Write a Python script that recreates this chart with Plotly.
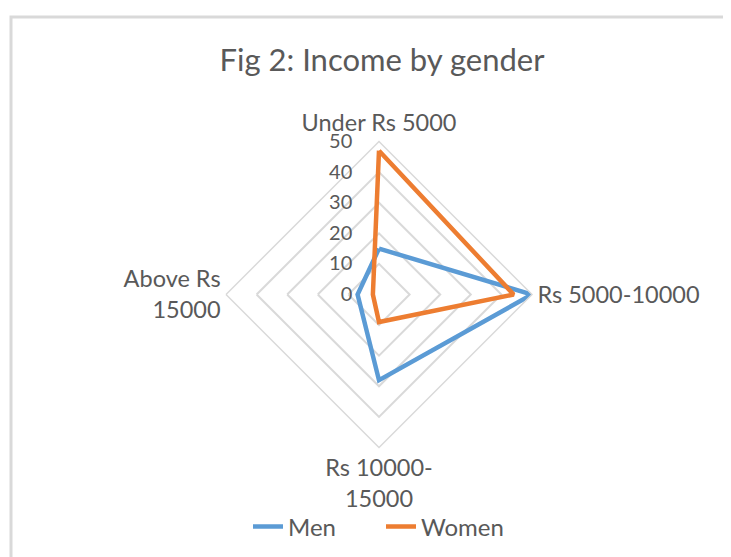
import plotly.graph_objects as go

categories = ["Under Rs 5000", "Rs 5000-10000", "Rs 10000-<br>15000", "Above Rs<br>15000"]
men = [15, 50, 28, 7]
women = [47, 44, 9, 2]
radial_ticks = [0, 10, 20, 30, 40, 50]

FS = "\u2007"  # figure space: right-align labels to the left of the radial axis
radial_text = [(FS * (2 - len(str(v)))) + str(v) + FS * 2 for v in radial_ticks]

OFF = 8  # page body margin
W, H = 731 - OFF, 557 - OFF
cx, cy, R = 379 - OFF, 294.5 - OFF, 153

fig = go.Figure()
fig.add_trace(go.Scatterpolar(
    r=men + men[:1], theta=categories + categories[:1], mode="lines", name="Men",
    line=dict(color="#5B9BD5", width=4.5)))
fig.add_trace(go.Scatterpolar(
    r=women + women[:1], theta=categories + categories[:1], mode="lines", name="Women",
    line=dict(color="#ED7D31", width=4.5)))

font_fam = "Lato, 'Open Sans', sans-serif"
fig.update_layout(
    width=W, height=H,
    margin=dict(l=0, r=0, t=0, b=0),
    paper_bgcolor="white",
    font=dict(family=font_fam, color="#595959", size=22),
    title=dict(text="Fig 2: Income by gender", x=(382 - OFF) / W, xanchor="center",
               y=1 - (60 - OFF) / H, yanchor="middle", font=dict(size=31, color="#595959")),
    polar=dict(
        domain=dict(x=[(cx - R) / W, (cx + R) / W], y=[(H - cy - R) / H, (H - cy + R) / H]),
        bgcolor="white",
        gridshape="linear",
        angularaxis=dict(direction="clockwise", rotation=90, showgrid=False,
                         showline=True, linecolor="#d9d9d9", linewidth=1.5,
                         ticks="", tickfont=dict(size=23.5, color="#595959")),
        radialaxis=dict(range=[0, 50], tickvals=radial_ticks, ticktext=radial_text,
                        showline=False, gridcolor="#d9d9d9", gridwidth=1.5, angle=90,
                        tickangle=90, ticks="", side="counterclockwise",
                        tickfont=dict(size=20, color="#595959")),
    ),
    legend=dict(orientation="h", x=(381 - OFF) / W, xanchor="center", y=1 - (527 - OFF) / H,
                yanchor="middle", bgcolor="rgba(0,0,0,0)", entrywidth=88,
                font=dict(size=24, color="#595959")),
    showlegend=True,
    shapes=[dict(type="rect", xref="paper", yref="paper", x0=(11 - OFF) / W, x1=1.05,
                 y0=-0.05, y1=1 - (17 - OFF) / H, line=dict(color="#d9d9d9", width=3))],
)

fig.write_html("out.html")
